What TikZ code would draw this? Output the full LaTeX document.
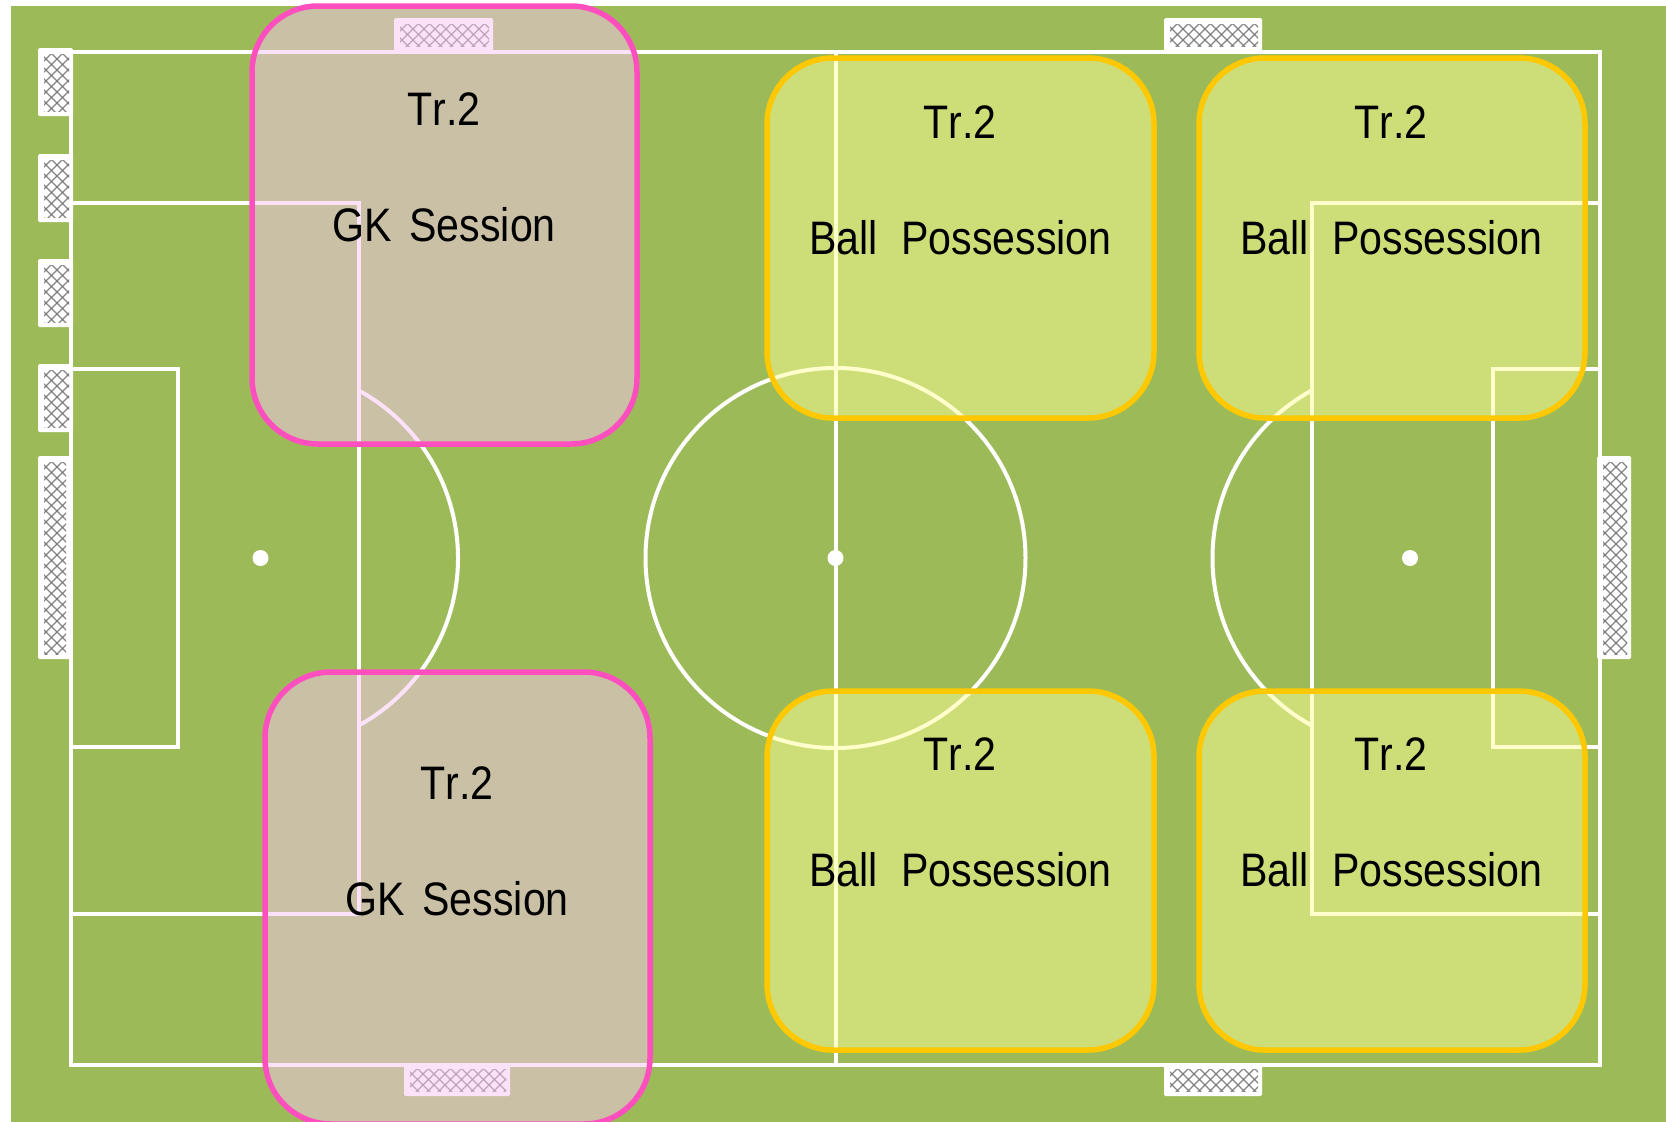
\documentclass[tikz,border=0pt]{standalone}
\usepackage{fontspec}
\setmainfont[FakeStretch=0.875]{Liberation Sans}
\newfontfamily\wideTr[FakeStretch=0.875,Kerning=Off]{Liberation Sans}
\definecolor{pitch}{HTML}{9CBB58}
\definecolor{pinkline}{HTML}{FF4FBF}
\definecolor{pinkfill}{HTML}{F8C6F4}
\definecolor{yelline}{HTML}{FFC800}
\definecolor{yelfill}{HTML}{FFFF99}
\definecolor{netgrey}{HTML}{707070}
\tikzset{
  x=1pt,y=-1pt,
  fieldline/.style={draw=white,line width=4pt},
  pinkbox/.style={draw=pinkline,line width=5.5pt,rounded corners=66pt,fill=pinkfill,fill opacity=.5,draw opacity=1},
  yelbox/.style={draw=yelline,line width=5.5pt,rounded corners=66pt,fill=yelfill,fill opacity=.5,draw opacity=1},
  lbl/.style={anchor=base,inner sep=0pt,text=black,font=\fontsize{47}{47}\selectfont},
  netline/.style={draw=netgrey,line width=1.2pt,opacity=.85},
}
\newcommand{\netgoal}[4]{%
  \fill[white,rounded corners=1.5pt] (#1,#2) rectangle (#3,#4);
  \begin{scope}
    \clip (#1+6,#2+6) rectangle (#3-4,#4-5);
    \foreach \k in {-300,-289,...,500}{
      \draw[netline] (#1+\k,#2) -- ++(300,300);
      \draw[netline] (#1+\k,#2) -- ++(-300,300);
    }
  \end{scope}
}
\begin{document}
\begin{tikzpicture}
\useasboundingbox (0,0) rectangle (1666,1122);
\clip (0,0) rectangle (1666,1122);
\fill[white] (0,0) rectangle (1666,1122);
\fill[pitch] (11,6) rectangle (1666,1122);
% markings
\draw[fieldline] (71,51.5) rectangle (1600,1064.5);
\draw[fieldline] (835.5,51.5) -- (835.5,1064.5);
\draw[fieldline] (71,202.5) -| (359,913.5) -- (71,913.5);
\draw[fieldline] (1600,202.5) -| (1311.5,913.5) -- (1600,913.5);
\draw[fieldline] (71,369) -| (177.5,747) -- (71,747);
\draw[fieldline] (1600,369) -| (1493,747) -- (1600,747);
\draw[fieldline] (835.5,558) circle[radius=190];
\draw[fieldline] (359,390.6) arc[start angle=-61.2,end angle=61.2,radius=191];
\draw[fieldline] (1311.5,390.6) arc[start angle=241.2,end angle=118.8,radius=191];
\fill[white] (260.5,558) circle[radius=8];
\fill[white] (835.5,558) circle[radius=8];
\fill[white] (1410,558) circle[radius=8];
% goals
\netgoal{394}{18}{493}{51}
\netgoal{1164}{18}{1262}{51}
\netgoal{404}{1063}{510}{1096}
\netgoal{1164}{1063}{1262}{1096}
\netgoal{38}{48}{73}{116}
\netgoal{38}{154}{73}{222}
\netgoal{38}{259}{73}{327}
\netgoal{38}{364}{73}{432}
\netgoal{38}{456}{70}{659}
\netgoal{1597}{456}{1631}{659}
% session boxes
\path[pinkbox] (252,6) rectangle (637,444);
\path[pinkbox] (265,672) rectangle (650,1124);
\path[yelbox] (767,58) rectangle (1154,418);
\path[yelbox] (1199,58) rectangle (1585,418);
\path[yelbox] (767,691) rectangle (1154,1050);
\path[yelbox] (1199,691) rectangle (1585,1050);
% labels
\node[lbl] (gka) at (444,125) {\wideTr Tr.2};
\node[lbl] (gkb) at (444,241) {GK\hspace{.14em} Session};
\node[lbl] (gkc) at (457,799) {\wideTr Tr.2};
\node[lbl] (gkd) at (457,915) {GK\hspace{.14em} Session};
\node[lbl] (ba) at (960,138) {\wideTr Tr.2};
\node[lbl] (bb) at (960.5,254) {Ball\hspace{.25em} Possession};
\node[lbl] (bc) at (1391,138) {\wideTr Tr.2};
\node[lbl] (bd) at (1391.5,254) {Ball\hspace{.25em} Possession};
\node[lbl] (be) at (960,770) {\wideTr Tr.2};
\node[lbl] (bf) at (960.5,886) {Ball\hspace{.25em} Possession};
\node[lbl] (bg) at (1391,770) {\wideTr Tr.2};
\node[lbl] (bh) at (1391.5,886) {Ball\hspace{.25em} Possession};
\end{tikzpicture}
\end{document}
